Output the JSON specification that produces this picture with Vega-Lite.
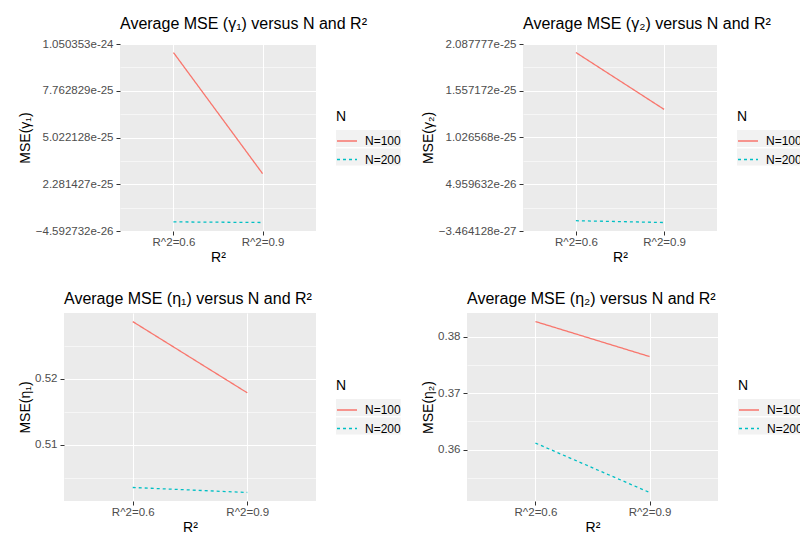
{
  "$schema": "https://vega.github.io/schema/vega-lite/v6.json",
  "padding": {"left": 0, "top": 16, "right": 0, "bottom": 0},
  "spacing": 26,
  "resolve": {
    "scale": {"x": "independent", "y": "independent", "color": "independent", "strokeDash": "independent"},
    "legend": {"color": "independent", "strokeDash": "independent"},
    "axis": {"x": "independent", "y": "independent"}
  },
  "config": {
    "font": "Liberation Sans",
    "view": {"fill": "#EBEBEB", "stroke": null},
    "axis": {
      "domain": false,
      "grid": true,
      "gridColor": "#FFFFFF",
      "tickColor": "#333333",
      "tickSize": 4,
      "tickWidth": 1,
      "labelColor": "#4D4D4D",
      "labelFontSize": 11.5,
      "labelPadding": 3,
      "titleColor": "#000000",
      "titleFontSize": 14,
      "titleFontWeight": "normal"
    },
    "axisX": {"labelAngle": 0, "labelPadding": 1, "titlePadding": 3, "gridWidth": 1.1},
    "axisY": {"titlePadding": 2},
    "legend": {
      "titleFontSize": 14,
      "titleFontWeight": "normal",
      "titleColor": "#000000",
      "titlePadding": 6,
      "labelFontSize": 12,
      "labelColor": "#000000",
      "labelOffset": 7,
      "symbolType": "stroke",
      "symbolSize": 400,
      "symbolStrokeWidth": 1.3,
      "rowPadding": 1.5,
      "offset": 11,
      "padding": 9,
      "layout": {"right": {"anchor": "middle", "bounds": "flush"}}
    },
    "title": {"fontSize": 16, "fontWeight": "normal", "color": "#000000", "anchor": "start", "frame": "group", "offset": 6}
  },
  "vconcat": [
    {
      "spacing": 11,
      "resolve": {
        "scale": {"x": "independent", "y": "independent", "color": "independent", "strokeDash": "independent"},
        "legend": {"color": "independent", "strokeDash": "independent"},
        "axis": {"x": "independent", "y": "independent"}
      },
      "hconcat": [
        {
          "width": 1,
          "height": 1,
          "view": {"fill": null, "stroke": null},
          "data": {"values": [{}]},
          "mark": {"type": "point", "opacity": 0},
          "encoding": {}
        },
        {
          "title": "Average MSE (γ₁) versus N and R²",
          "width": 196,
          "height": 187,
          "data": {"values": [
            {"R2": "R^2=0.6", "N": "N=100", "mse": 1.0004e-24},
            {"R2": "R^2=0.9", "N": "N=100", "mse": 2.907e-25},
            {"R2": "R^2=0.6", "N": "N=200", "mse": 7.5e-27},
            {"R2": "R^2=0.9", "N": "N=200", "mse": 3.9e-27}
          ]},
          "mark": {"type": "line", "strokeWidth": 1.3},
          "encoding": {
            "x": {"field": "R2", "type": "nominal", "title": "R²", "scale": {"padding": 0.6}},
            "y": {
              "field": "mse", "type": "quantitative", "title": "MSE(γ₁)",
              "scale": {"domain": [-4.592732e-26, 1.050353e-24], "nice": false, "zero": false},
              "axis": {
                "minExtent": 86,
                "maxExtent": 86,
                "values": [-4.592732e-26, 9.110769e-26, 2.281427e-25, 3.6517775e-25, 5.022128e-25, 6.3924785e-25, 7.762829e-25, 9.1331795e-25, 1.050353e-24],
                "format": ".6e",
                "labelExpr": "indexof([-4.592732e-26, 2.281427e-25, 5.022128e-25, 7.762829e-25, 1.050353e-24], datum.value) >= 0 ? datum.label : ''",
                "gridWidth": {"condition": {"test": "indexof([-4.592732e-26, 2.281427e-25, 5.022128e-25, 7.762829e-25, 1.050353e-24], datum.value) < 0", "value": 0.55}, "value": 1.1},
                "tickOpacity": {"condition": {"test": "indexof([-4.592732e-26, 2.281427e-25, 5.022128e-25, 7.762829e-25, 1.050353e-24], datum.value) < 0", "value": 0}, "value": 1}
              }
            },
            "color": {"field": "N", "type": "nominal", "title": "N", "scale": {"domain": ["N=100", "N=200"], "range": ["#F8766D", "#00BFC4"]},
              "legend": {"encode": {"entries": {"update": {"fill": {"value": "#F2F2F2"}, "width": {"value": 20}, "height": {"value": 20}}}}}},
            "strokeDash": {"field": "N", "type": "nominal", "title": "N", "scale": {"domain": ["N=100", "N=200"], "range": [[1, 0], [3, 3]]}}
          }
        },
        {
          "title": "Average MSE (γ₂) versus N and R²",
          "width": 194,
          "height": 187,
          "data": {"values": [
            {"R2": "R^2=0.6", "N": "N=100", "mse": 1.9913e-25},
            {"R2": "R^2=0.9", "N": "N=100", "mse": 1.3456e-25},
            {"R2": "R^2=0.6", "N": "N=200", "mse": 8.2e-27},
            {"R2": "R^2=0.9", "N": "N=200", "mse": 6.18e-27}
          ]},
          "mark": {"type": "line", "strokeWidth": 1.3},
          "encoding": {
            "x": {"field": "R2", "type": "nominal", "title": "R²", "scale": {"padding": 0.6}},
            "y": {
              "field": "mse", "type": "quantitative", "title": "MSE(γ₂)",
              "scale": {"domain": [-3.464128e-27, 2.087777e-25], "nice": false, "zero": false},
              "axis": {
                "minExtent": 86,
                "maxExtent": 86,
                "values": [-3.464128e-27, 2.3066096e-26, 4.959632e-26, 7.612656e-26, 1.026568e-25, 1.29187e-25, 1.557172e-25, 1.8224745e-25, 2.087777e-25],
                "format": ".6e",
                "labelExpr": "indexof([-3.464128e-27, 4.959632e-26, 1.026568e-25, 1.557172e-25, 2.087777e-25], datum.value) >= 0 ? datum.label : ''",
                "gridWidth": {"condition": {"test": "indexof([-3.464128e-27, 4.959632e-26, 1.026568e-25, 1.557172e-25, 2.087777e-25], datum.value) < 0", "value": 0.55}, "value": 1.1},
                "tickOpacity": {"condition": {"test": "indexof([-3.464128e-27, 4.959632e-26, 1.026568e-25, 1.557172e-25, 2.087777e-25], datum.value) < 0", "value": 0}, "value": 1}
              }
            },
            "color": {"field": "N", "type": "nominal", "title": "N", "scale": {"domain": ["N=100", "N=200"], "range": ["#F8766D", "#00BFC4"]},
              "legend": {"encode": {"entries": {"update": {"fill": {"value": "#F2F2F2"}, "width": {"value": 20}, "height": {"value": 20}}}}}},
            "strokeDash": {"field": "N", "type": "nominal", "title": "N", "scale": {"domain": ["N=100", "N=200"], "range": [[1, 0], [3, 3]]}}
          }
        }
      ]
    },
    {
      "spacing": 11,
      "resolve": {
        "scale": {"x": "independent", "y": "independent", "color": "independent", "strokeDash": "independent"},
        "legend": {"color": "independent", "strokeDash": "independent"},
        "axis": {"x": "independent", "y": "independent"}
      },
      "hconcat": [
        {
          "width": 1,
          "height": 1,
          "view": {"fill": null, "stroke": null},
          "data": {"values": [{}]},
          "mark": {"type": "point", "opacity": 0},
          "encoding": {}
        },
        {
          "title": "Average MSE (η₁) versus N and R²",
          "width": 252,
          "height": 188,
          "data": {"values": [
            {"R2": "R^2=0.6", "N": "N=100", "mse": 0.5287},
            {"R2": "R^2=0.9", "N": "N=100", "mse": 0.5179},
            {"R2": "R^2=0.6", "N": "N=200", "mse": 0.50355},
            {"R2": "R^2=0.9", "N": "N=200", "mse": 0.50279}
          ]},
          "mark": {"type": "line", "strokeWidth": 1.3},
          "encoding": {
            "x": {"field": "R2", "type": "nominal", "title": "R²", "scale": {"padding": 0.6}},
            "y": {
              "field": "mse", "type": "quantitative", "title": "MSE(η₁)",
              "scale": {"domain": [0.5015, 0.53], "nice": false, "zero": false},
              "axis": {
                "minExtent": 30,
                "maxExtent": 30,
                "values": [0.505, 0.51, 0.515, 0.52, 0.525],
                "format": ".2f",
                "labelExpr": "indexof([0.51, 0.52], datum.value) >= 0 ? datum.label : ''",
                "gridWidth": {"condition": {"test": "indexof([0.51, 0.52], datum.value) < 0", "value": 0.55}, "value": 1.1},
                "tickOpacity": {"condition": {"test": "indexof([0.51, 0.52], datum.value) < 0", "value": 0}, "value": 1}
              }
            },
            "color": {"field": "N", "type": "nominal", "title": "N", "scale": {"domain": ["N=100", "N=200"], "range": ["#F8766D", "#00BFC4"]},
              "legend": {"encode": {"entries": {"update": {"fill": {"value": "#F2F2F2"}, "width": {"value": 20}, "height": {"value": 20}}}}}},
            "strokeDash": {"field": "N", "type": "nominal", "title": "N", "scale": {"domain": ["N=100", "N=200"], "range": [[1, 0], [3, 3]]}}
          }
        },
        {
          "title": "Average MSE (η₂) versus N and R²",
          "width": 251,
          "height": 188,
          "data": {"values": [
            {"R2": "R^2=0.6", "N": "N=100", "mse": 0.38265},
            {"R2": "R^2=0.9", "N": "N=100", "mse": 0.37646},
            {"R2": "R^2=0.6", "N": "N=200", "mse": 0.36117},
            {"R2": "R^2=0.9", "N": "N=200", "mse": 0.35244}
          ]},
          "mark": {"type": "line", "strokeWidth": 1.3},
          "encoding": {
            "x": {"field": "R2", "type": "nominal", "title": "R²", "scale": {"padding": 0.6}},
            "y": {
              "field": "mse", "type": "quantitative", "title": "MSE(η₂)",
              "scale": {"domain": [0.35093, 0.38416], "nice": false, "zero": false},
              "axis": {
                "minExtent": 30,
                "maxExtent": 30,
                "values": [0.355, 0.36, 0.365, 0.37, 0.375, 0.38],
                "format": ".2f",
                "labelExpr": "indexof([0.36, 0.37, 0.38], datum.value) >= 0 ? datum.label : ''",
                "gridWidth": {"condition": {"test": "indexof([0.36, 0.37, 0.38], datum.value) < 0", "value": 0.55}, "value": 1.1},
                "tickOpacity": {"condition": {"test": "indexof([0.36, 0.37, 0.38], datum.value) < 0", "value": 0}, "value": 1}
              }
            },
            "color": {"field": "N", "type": "nominal", "title": "N", "scale": {"domain": ["N=100", "N=200"], "range": ["#F8766D", "#00BFC4"]},
              "legend": {"encode": {"entries": {"update": {"fill": {"value": "#F2F2F2"}, "width": {"value": 20}, "height": {"value": 20}}}}}},
            "strokeDash": {"field": "N", "type": "nominal", "title": "N", "scale": {"domain": ["N=100", "N=200"], "range": [[1, 0], [3, 3]]}}
          }
        }
      ]
    }
  ]
}
